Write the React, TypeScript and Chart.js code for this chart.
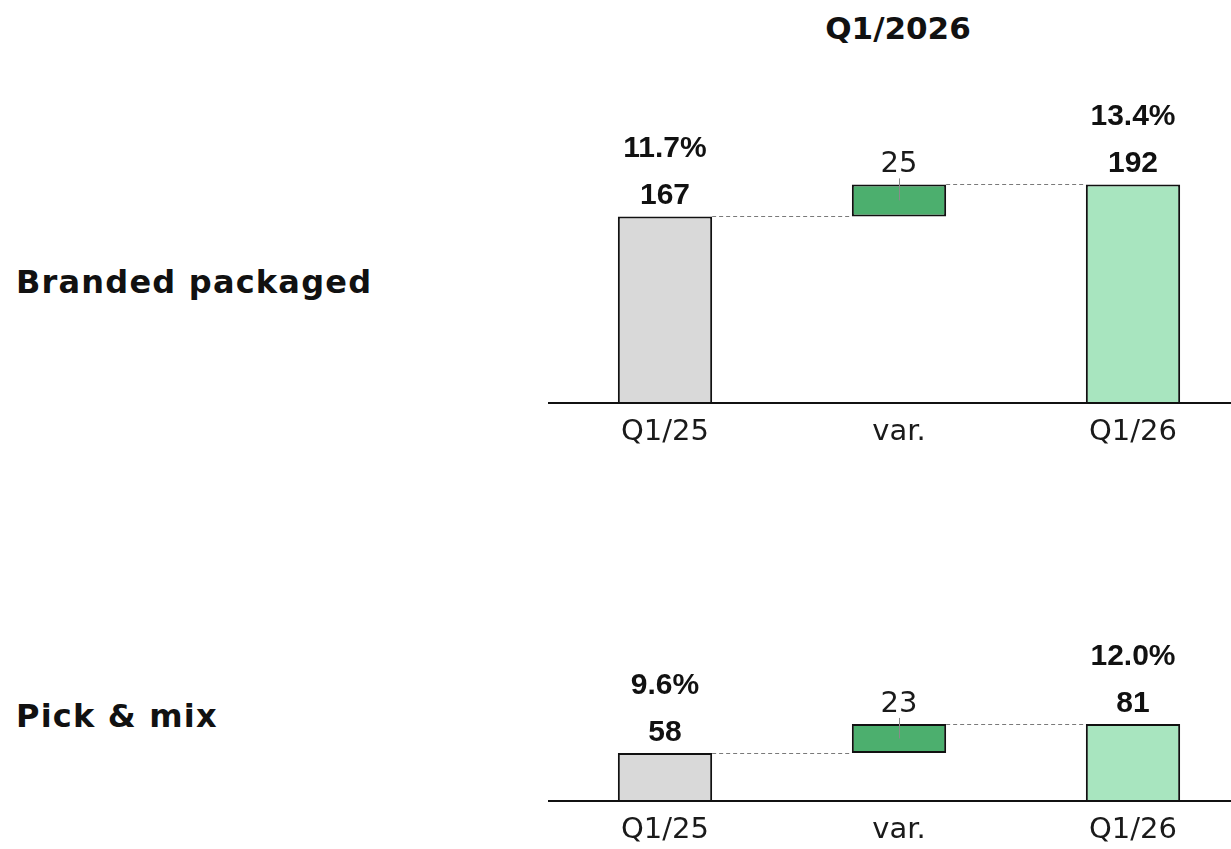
import React, { useEffect, useRef } from "react";
import { Chart, registerables } from "chart.js";

Chart.register(...registerables);

// Waterfall steps: opening total, change, closing total
const CATEGORIES = ["Q1/25", "var.", "Q1/26"];
const TITLE = "Q1/2026";

const BRANDED_LABEL = "Branded packaged";
const BRANDED_VALUES = [167, 25, 192];
const BRANDED_MARGINS = ["11.7%", "", "13.4%"];

const PICK_LABEL = "Pick & mix";
const PICK_VALUES = [58, 23, 81];
const PICK_MARGINS = ["9.6%", "", "12.0%"];

const BAR_COLORS = ["#d9d9d9", "#4caf6e", "#a8e5bf"];
const INK = "#111111";

const NUMBER_FONT = "bold 30px 'Liberation Sans', Arial, sans-serif";
const CHANGE_FONT = "29px 'DejaVu Sans', sans-serif";

const waterfallLabels = {
  id: "waterfallLabels",
  afterDatasetsDraw(chart: any, _args: any, opts: any) {
    const { ctx } = chart;
    const yScale = chart.scales.y;
    const bars = chart.getDatasetMeta(0).data as any[];
    const values: number[] = opts.values;
    const margins: string[] = opts.margins;
    const levels = [values[0], values[0] + values[1]];

    ctx.save();

    // dashed connectors between consecutive steps
    ctx.strokeStyle = "#7a7a7a";
    ctx.lineWidth = 1;
    ctx.setLineDash([4, 3]);
    for (let i = 0; i < bars.length - 1; i++) {
      const a = bars[i];
      const b = bars[i + 1];
      const py = Math.round(yScale.getPixelForValue(levels[i])) + 0.5;
      ctx.beginPath();
      ctx.moveTo(a.x + a.width / 2, py);
      ctx.lineTo(b.x - b.width / 2, py);
      ctx.stroke();
    }
    ctx.setLineDash([]);

    ctx.textAlign = "center";
    ctx.textBaseline = "alphabetic";
    ctx.fillStyle = INK;
    bars.forEach((bar, i) => {
      const top = Math.min(bar.y, bar.base);
      const bottom = Math.max(bar.y, bar.base);
      if (i === 1) {
        ctx.font = CHANGE_FONT;
        ctx.fillStyle = "#1a1a1a";
        ctx.fillText(String(values[i]), bar.x, top - 12);
        ctx.strokeStyle = "#8a8a8a";
        ctx.lineWidth = 1;
        const lx = Math.round(bar.x) + 0.5;
        ctx.beginPath();
        ctx.moveTo(lx, top - 6);
        ctx.lineTo(lx, (top + bottom) / 2);
        ctx.stroke();
      } else {
        ctx.font = NUMBER_FONT;
        ctx.fillStyle = INK;
        ctx.fillText(String(values[i]), bar.x, top - 12);
        if (margins[i]) ctx.fillText(margins[i], bar.x, top - 59);
      }
    });
    ctx.restore();
  },
};

type PanelProps = {
  values: number[];
  margins: string[];
  yMin: number;
  yMax: number;
  top: number;
  height: number;
};

function WaterfallPanel({ values, margins, yMin, yMax, top, height }: PanelProps) {
  const ref = useRef<HTMLCanvasElement | null>(null);

  useEffect(() => {
    if (!ref.current) return;
    const floating = [
      [0, values[0]],
      [values[0], values[0] + values[1]],
      [0, values[2]],
    ];
    const chart = new Chart(ref.current, {
      type: "bar",
      data: {
        labels: CATEGORIES,
        datasets: [
          {
            data: floating as any,
            backgroundColor: BAR_COLORS,
            borderColor: INK,
            borderWidth: 2,
            borderSkipped: false,
            barPercentage: 0.403,
            categoryPercentage: 1,
            clip: { left: false, top: false, right: false, bottom: 0 } as any,
          },
        ],
      },
      options: {
        responsive: false,
        animation: false,
        events: [],
        layout: { padding: 0 },
        plugins: {
          legend: { display: false },
          tooltip: { enabled: false },
          title: { display: false },
          waterfallLabels: { values, margins },
        } as any,
        scales: {
          x: {
            type: "category",
            offset: true,
            grid: { display: false, drawTicks: false },
            border: { display: true, color: INK, width: 2, z: 1 },
            ticks: {
              color: "#1a1a1a",
              padding: 12,
              autoSkip: false,
              maxRotation: 0,
              font: { family: "'DejaVu Sans', sans-serif", size: 29 },
            },
            afterFit: (scale: any) => {
              scale.height = 60;
            },
          },
          y: { display: false, min: yMin, max: yMax },
        },
      },
      plugins: [waterfallLabels],
    });
    return () => chart.destroy();
  }, [values, margins, yMin, yMax]);

  return (
    <canvas
      ref={ref}
      width={702}
      height={height}
      style={{ position: "absolute", left: 548, top, width: 702, height }}
    />
  );
}

const labelStyle: React.CSSProperties = {
  position: "absolute",
  left: 16,
  fontFamily: "'DejaVu Sans', sans-serif",
  fontWeight: 700,
  fontSize: 32,
  lineHeight: "32px",
  letterSpacing: "1.2px",
  color: INK,
  whiteSpace: "nowrap",
};

export default function App() {
  return (
    <div
      style={{
        position: "fixed",
        inset: 0,
        overflow: "hidden",
        background: "#ffffff",
      }}
    >
      <div
        style={{
          position: "absolute",
          left: 698,
          top: 13,
          width: 400,
          textAlign: "center",
          fontFamily: "'DejaVu Sans', sans-serif",
          fontWeight: 700,
          fontSize: 31,
          lineHeight: "31px",
          color: INK,
        }}
      >
        {TITLE}
      </div>

      <div style={{ ...labelStyle, top: 266 }}>{BRANDED_LABEL}</div>
      <WaterfallPanel
        values={BRANDED_VALUES}
        margins={BRANDED_MARGINS}
        yMin={21.2}
        yMax={289.2}
        top={60}
        height={403}
      />

      <div style={{ ...labelStyle, top: 700 }}>{PICK_LABEL}</div>
      <WaterfallPanel
        values={PICK_VALUES}
        margins={PICK_MARGINS}
        yMin={19.9}
        yMax={211.0}
        top={560}
        height={301}
      />
    </div>
  );
}
